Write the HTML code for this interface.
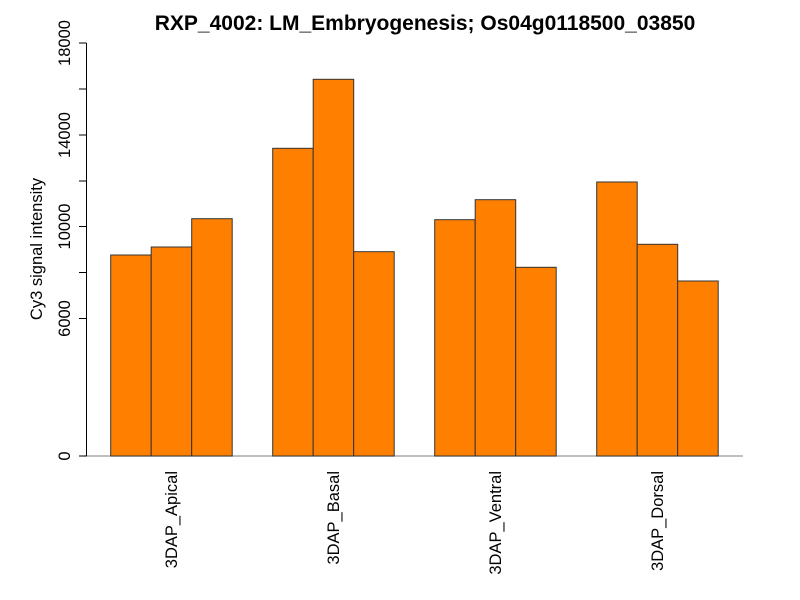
<!DOCTYPE html>
<html><head><meta charset="utf-8"><style>body{margin:0;background:#fff}svg{display:block}</style></head><body>
<svg width="800" height="600" xmlns="http://www.w3.org/2000/svg" font-family="Liberation Sans, Arial, sans-serif">
<rect width="800" height="600" fill="#fff"/>
<text x="425" y="30" text-anchor="middle" font-weight="bold" font-size="21">RXP_4002: LM_Embryogenesis; Os04g0118500_03850</text>
<line x1="84" y1="456" x2="743" y2="456" stroke="#999" stroke-width="1.2"/>
<g fill="#FF8000" stroke="#333" stroke-width="1">
<rect x="110.7" y="255" width="40.5" height="201"/>
<rect x="151.2" y="247" width="40.5" height="209"/>
<rect x="191.7" y="218.7" width="40.5" height="237.3"/>
<rect x="272.7" y="148.3" width="40.5" height="307.7"/>
<rect x="313.2" y="79.3" width="40.5" height="376.7"/>
<rect x="353.7" y="251.7" width="40.5" height="204.3"/>
<rect x="434.7" y="219.7" width="40.5" height="236.3"/>
<rect x="475.2" y="199.7" width="40.5" height="256.3"/>
<rect x="515.7" y="267.3" width="40.5" height="188.7"/>
<rect x="596.7" y="182" width="40.5" height="274"/>
<rect x="637.2" y="244.3" width="40.5" height="211.7"/>
<rect x="677.7" y="281" width="40.5" height="175"/>
</g>
<g stroke="#000" stroke-width="1">
<line x1="86.5" y1="43" x2="86.5" y2="456"/>
<line x1="79" y1="43" x2="86.5" y2="43"/>
<line x1="79" y1="89" x2="86.5" y2="89"/>
<line x1="79" y1="135" x2="86.5" y2="135"/>
<line x1="79" y1="181" x2="86.5" y2="181"/>
<line x1="79" y1="226.5" x2="86.5" y2="226.5"/>
<line x1="79" y1="272.5" x2="86.5" y2="272.5"/>
<line x1="79" y1="318.5" x2="86.5" y2="318.5"/>
<line x1="79" y1="456" x2="86.5" y2="456"/>
</g>
<g font-size="16.5" text-anchor="middle">
<text transform="translate(70,43) rotate(-90)">18000</text>
<text transform="translate(70,135) rotate(-90)">14000</text>
<text transform="translate(70,226.5) rotate(-90)">10000</text>
<text transform="translate(70,318.5) rotate(-90)">6000</text>
<text transform="translate(70,456) rotate(-90)">0</text>
<text transform="translate(42,249) rotate(-90)">Cy3 signal intensity</text>
</g>
<g font-size="16.5" text-anchor="end">
<text transform="translate(177,471) rotate(-90)">3DAP_Apical</text>
<text transform="translate(339,471) rotate(-90)">3DAP_Basal</text>
<text transform="translate(501,471) rotate(-90)">3DAP_Ventral</text>
<text transform="translate(663,471) rotate(-90)">3DAP_Dorsal</text>
</g>
</svg>
</body></html>
